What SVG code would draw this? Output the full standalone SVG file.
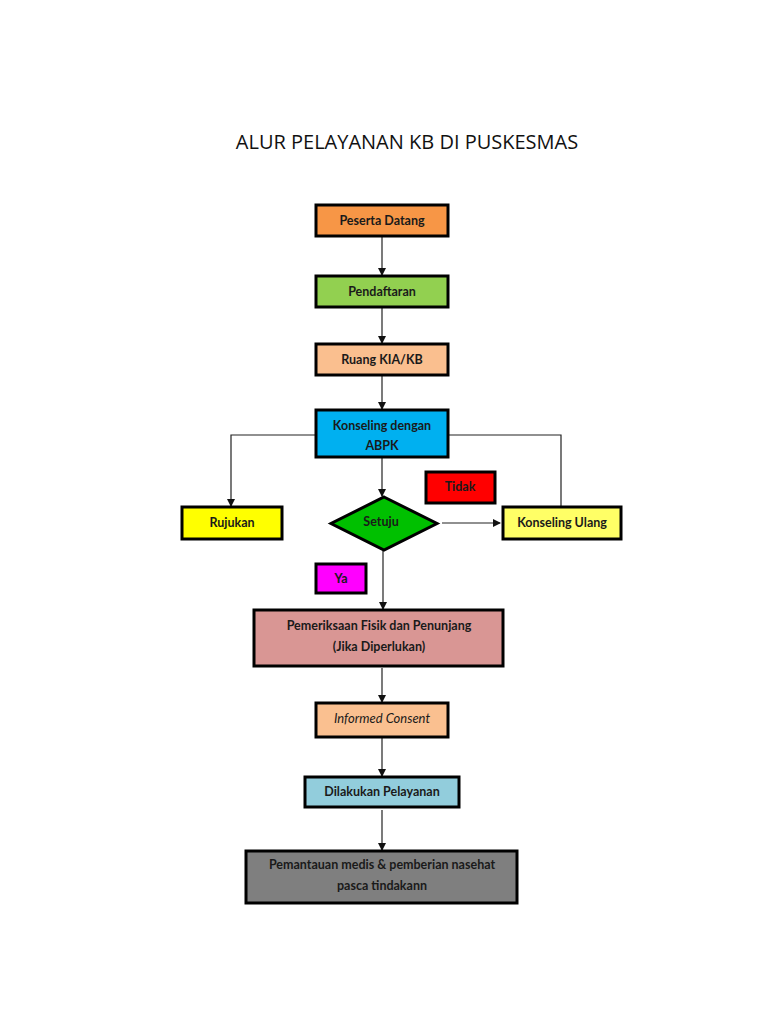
<svg xmlns="http://www.w3.org/2000/svg" width="768" height="1024" viewBox="0 0 768 1024">
<style>
.box{stroke:#000;stroke-width:3}
.t{font-family:Lato,"Open Sans",sans-serif;font-weight:bold;font-size:12.5px;fill:#1a1a1a;text-anchor:middle}
.ln{stroke:#222;stroke-width:1.2;fill:none}
.title{font-family:"Open Sans",Lato,sans-serif;font-size:20px;fill:#111;text-anchor:middle}
</style>
<defs>
<marker id="ah" markerWidth="8" markerHeight="8" refX="7" refY="4" orient="auto" markerUnits="userSpaceOnUse">
<path d="M0,0 L8,4 L0,8 Z" fill="#111"/>
</marker>
</defs>
<rect width="768" height="1024" fill="#fff"/>
<text class="title" x="407" y="149">ALUR PELAYANAN KB DI PUSKESMAS</text>

<g id="connectors">
<line class="ln" x1="382" y1="237" x2="382" y2="275" marker-end="url(#ah)"/>
<line class="ln" x1="382" y1="308" x2="382" y2="343" marker-end="url(#ah)"/>
<line class="ln" x1="382" y1="376" x2="382" y2="409" marker-end="url(#ah)"/>
<polyline class="ln" points="316,435 231,435 231,506" marker-end="url(#ah)"/>
<polyline class="ln" points="448,435 561,435 561,506"/>
<line class="ln" x1="382" y1="458" x2="382" y2="496" marker-end="url(#ah)"/>
<line class="ln" x1="442" y1="523" x2="500" y2="523" marker-end="url(#ah)"/>
<line class="ln" x1="383" y1="551" x2="383" y2="609" marker-end="url(#ah)"/>
<line class="ln" x1="382" y1="668" x2="382" y2="702" marker-end="url(#ah)"/>
<line class="ln" x1="382" y1="738" x2="382" y2="776" marker-end="url(#ah)"/>
<line class="ln" x1="382" y1="810" x2="382" y2="850" marker-end="url(#ah)"/>
</g>

<g id="peserta"><rect class="box" x="316" y="205" width="132" height="31" fill="#F79646"/><text class="t" x="382" y="225">Peserta Datang</text></g>
<g id="pendaftaran"><rect class="box" x="316" y="276" width="132" height="31" fill="#92D050"/><text class="t" x="382" y="296">Pendaftaran</text></g>
<g id="ruang"><rect class="box" x="316" y="344" width="132" height="31" fill="#FABF8F"/><text class="t" x="382" y="364">Ruang KIA/KB</text></g>
<g id="konseling"><rect class="box" x="316" y="410" width="132" height="47" fill="#00B0F0"/><text class="t" x="382" y="430">Konseling dengan</text><text class="t" x="382" y="450">ABPK</text></g>
<g id="rujukan"><rect class="box" x="182" y="507" width="100" height="32" fill="#FFFF00"/><text class="t" x="232" y="527">Rujukan</text></g>
<g id="setuju"><polygon class="box" points="384,497 437,523.5 384,550 331,523.5" fill="#00C000"/><text class="t" x="381" y="526">Setuju</text></g>
<g id="tidak"><rect class="box" x="426" y="472" width="69" height="31" fill="#FF0000"/><text class="t" x="460" y="491">Tidak</text></g>
<g id="ulang"><rect class="box" x="503" y="507" width="118" height="32" fill="#FFFF66"/><text class="t" x="562" y="527">Konseling Ulang</text></g>
<g id="ya"><rect class="box" x="316" y="564" width="50" height="29" fill="#FF00FF"/><text class="t" x="341" y="583">Ya</text></g>
<g id="pemeriksaan"><rect class="box" x="254" y="610" width="249" height="56" fill="#D99694"/><text class="t" x="379" y="630">Pemeriksaan Fisik dan Penunjang</text><text class="t" x="379" y="651">(Jika Diperlukan)</text></g>
<g id="informed"><rect class="box" x="316" y="703" width="132" height="34" fill="#FAC090"/><text class="t" x="382" y="723" style="font-style:italic;font-weight:normal;font-size:13px">Informed Consent</text></g>
<g id="dilakukan"><rect class="box" x="305" y="777" width="154" height="30" fill="#92CDDC"/><text class="t" x="382" y="796">Dilakukan Pelayanan</text></g>
<g id="pemantauan"><rect class="box" x="246" y="851" width="271" height="52" fill="#7F7F7F"/><text class="t" x="382" y="869">Pemantauan medis &amp; pemberian nasehat</text><text class="t" x="382" y="890">pasca tindakann</text></g>
</svg>
